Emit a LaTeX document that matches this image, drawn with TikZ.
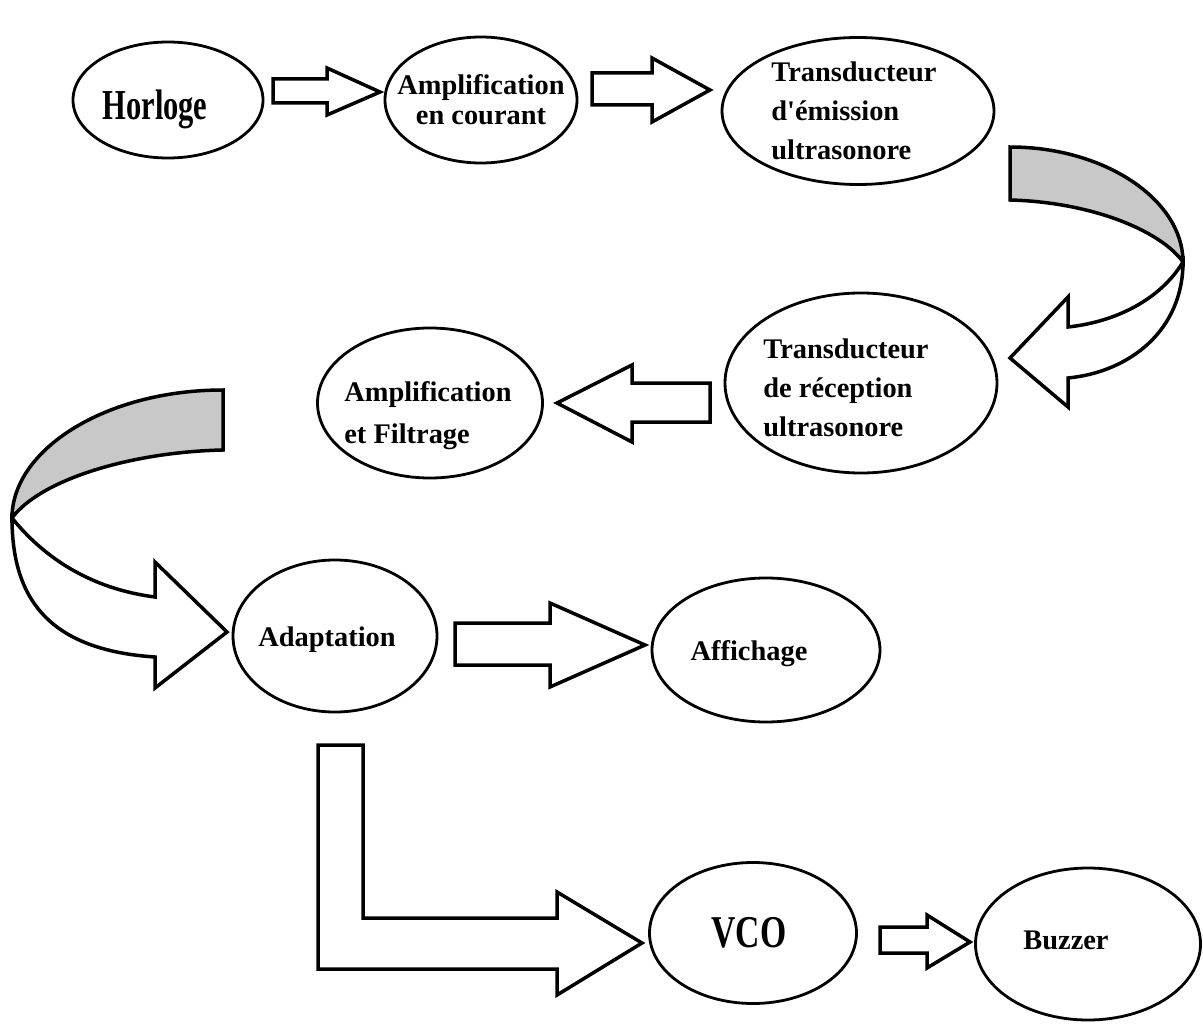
\documentclass[tikz,border=0pt]{standalone}
\usepackage{fontspec}
\usepackage{graphicx}
\setmainfont{Liberation Serif}
\usetikzlibrary{shapes.geometric}
\definecolor{ruban}{RGB}{200,200,200}
\tikzset{
  bloc/.style={draw, ellipse, line width=2.8pt, inner sep=0pt},
  texte/.style={inner sep=0pt, align=left, font=\bfseries\fontsize{28.4}{39}\selectfont},
  fleche/.style={draw, line width=3.5pt, fill=white, line join=miter},
  dos/.style={fleche, fill=ruban}
}
\begin{document}
\begin{tikzpicture}[x=1pt, y=-1pt]
  \useasboundingbox (0,0) rectangle (1203,1025);
  % blocs
  \node[bloc, minimum width=190pt, minimum height=116pt] (horloge) at (168,100) {};
  \node[bloc, minimum width=192pt, minimum height=126pt] (ampcour) at (481,100) {};
  \node[bloc, minimum width=272pt, minimum height=147pt] (emission) at (858,111) {};
  \node[bloc, minimum width=272pt, minimum height=180pt] (reception) at (861,383) {};
  \node[bloc, minimum width=225pt, minimum height=150pt] (ampfilt) at (430,403) {};
  \node[bloc, minimum width=204pt, minimum height=152pt] (adapt) at (335,636) {};
  \node[bloc, minimum width=228pt, minimum height=144pt] (affich) at (766,650) {};
  \node[bloc, minimum width=207pt, minimum height=141pt] (vco) at (753,933) {};
  \node[bloc, minimum width=225pt, minimum height=152pt] (buzzer) at (1088,944) {};
  % textes
  \node[texte] (horloge-t) at ([shift={(-13,9)}]horloge.center) {\fontsize{30.5}{30}\selectfont\scalebox{1}[1.4]{Horloge}};
  \node[texte, align=center, font=\bfseries\fontsize{28.4}{30}\selectfont] (ampcour-t) at (ampcour.center) {Amplification\\en courant};
  \node[texte] (emission-t) at ([shift={(-4,0)}]emission.center) {Transducteur\\d\textquotesingle émission\\ultrasonore};
  \node[texte] (reception-t) at ([shift={(-15,5)}]reception.center) {Transducteur\\de réception\\ultrasonore};
  \node[texte, font=\bfseries\fontsize{28.4}{42}\selectfont] (ampfilt-t) at ([shift={(-2,13)}]ampfilt.center) {Amplification\\et Filtrage};
  \node[texte] (adapt-t) at ([shift={(-8,4)}]adapt.center) {Adaptation};
  \node[texte] (affich-t) at ([shift={(-17,4)}]affich.center) {Affichage};
  \node[texte] (vco-t) at ([shift={(-4,0)}]vco.center) {\fontsize{33.7}{34}\selectfont\scalebox{1}[1.35]{VCO}};
  \node[texte] (buzzer-t) at ([shift={(-22,-4)}]buzzer.center) {Buzzer};
  % fleches droites
  \draw[fleche] (273,79) -- (327,79) -- (327,68) -- (380,92) -- (327,115) -- (327,103) -- (273,103) -- cycle;
  \draw[fleche] (592,73) -- (652,73) -- (652,58) -- (710,90) -- (652,122) -- (652,105) -- (592,105) -- cycle;
  \draw[fleche] (710,383) -- (632,383) -- (632,365) -- (557,403) -- (632,442) -- (632,422) -- (710,422) -- cycle;
  \draw[fleche] (455,623) -- (550,623) -- (550,603) -- (645,645) -- (550,687) -- (550,665) -- (455,665) -- cycle;
  \draw[fleche] (880,927) -- (927,927) -- (927,915) -- (970,942) -- (927,968) -- (927,953) -- (880,953) -- cycle;
  % fleche coudee
  \draw[fleche] (318,745) -- (363,745) -- (363,918) -- (557,918) -- (557,892) -- (642,943) -- (557,995) -- (557,969) -- (318,969) -- cycle;
  % fleche courbe a droite
  \draw[fleche] (1183,262) .. controls (1160,300) and (1115,322) .. (1068,327) -- (1068,297) -- (1010,358) -- (1068,407) -- (1068,378)
    .. controls (1130,372) and (1183,330) .. (1183,262) -- cycle;
  \draw[dos] (1010,147) -- (1010,200) .. controls (1090,202) and (1160,230) .. (1183,262)
    .. controls (1183,200) and (1105,147) .. (1010,147) -- cycle;
  % fleche courbe a gauche
  \draw[fleche] (12,518) .. controls (50,565) and (100,590) .. (155,597) -- (155,562) -- (227,632) -- (155,688) -- (155,657)
    .. controls (50,650) and (12,600) .. (12,518) -- cycle;
  \draw[dos] (223,390) -- (223,450) .. controls (130,452) and (40,480) .. (12,518)
    .. controls (12,450) and (105,390) .. (223,390) -- cycle;
\end{tikzpicture}
\end{document}
